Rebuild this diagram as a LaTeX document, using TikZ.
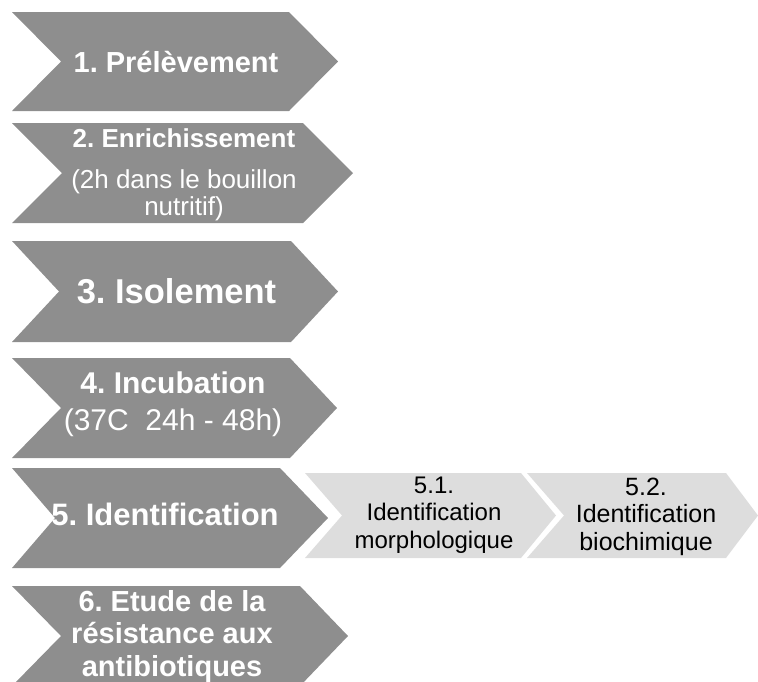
\documentclass[tikz,border=0pt]{standalone}
\usepackage{fontspec}
\setmainfont{Liberation Sans}
\usepackage{tikz}
\usepackage{xcolor}
\definecolor{stepgray}{RGB}{142,142,142}
\definecolor{substepgray}{RGB}{221,221,221}
\frenchspacing

\begin{document}
\begin{tikzpicture}[x=1pt, y=-1pt,
    steptext/.style={text=white, align=center, anchor=base, inner sep=0pt},
    subtext/.style={text=black, align=center, anchor=base, inner sep=0pt},
    fs/.style 2 args={font=\fontsize{#1}{#2}\selectfont},
    fsb/.style 2 args={font=\fontsize{#1}{#2}\selectfont\bfseries}]
    \useasboundingbox (0,0) rectangle (758,681);
    \clip (0,0) rectangle (758,681);
    \fill[stepgray] (12,12) -- (289,12) -- (338,61.5) -- (289,111) -- (12,111) -- (61,61.5) -- cycle;
    \fill[stepgray] (12,123) -- (303,123) -- (353,173) -- (303,223) -- (12,223) -- (62,173) -- cycle;
    \fill[stepgray] (12,241) -- (291,241) -- (338,291.5) -- (291,342) -- (12,342) -- (59,291.5) -- cycle;
    \fill[stepgray] (12,358) -- (290,358) -- (337,408) -- (290,458) -- (12,458) -- (61,408) -- cycle;
    \fill[stepgray] (12,468) -- (280,468) -- (328,518) -- (280,568) -- (12,568) -- (55,518) -- cycle;
    \fill[stepgray] (12,586) -- (300,586) -- (348,636) -- (300,686) -- (12,686) -- (61,636) -- cycle;
    \fill[substepgray] (305,473) -- (521,473) -- (556,515.5) -- (521,558) -- (305,558) -- (342,515.5) -- cycle;
    \fill[substepgray] (527,473) -- (726,473) -- (758,515.5) -- (726,558) -- (527,558) -- (564,515.5) -- cycle;
    \node[steptext, fsb={29}{33}] (prelevement) at (176,72) {1. Prélèvement};
    \node[steptext, fs={26}{27}] (enrichissement) at (184,215) {{\bfseries 2. Enrichissement}\\[14pt] (2h dans le bouillon\\ nutritif)};
    \node[steptext, fsb={34.5}{38}] (isolement) at (176.5,303) {3. Isolement};
    \node[steptext, fs={30}{37}] (incubation) at (173,430) {{\bfseries 4. Incubation}\\ (37C\ \ 24h - 48h)};
    \node[steptext, fsb={31}{35}] (identification) at (165,525) {5. Identification};
    \node[steptext, fsb={29}{32.5}] (resistance) at (172,676) {6. Etude de la\\ résistance aux\\ antibiotiques};
    \node[subtext, fs={24}{27.5}] (morpho) at (434,548) {5.1.\\ Identification\\ morphologique};
    \node[subtext, fs={25}{27.5}] (biochimie) at (646,550) {5.2.\\ Identification\\ biochimique};
\end{tikzpicture}
\end{document}
